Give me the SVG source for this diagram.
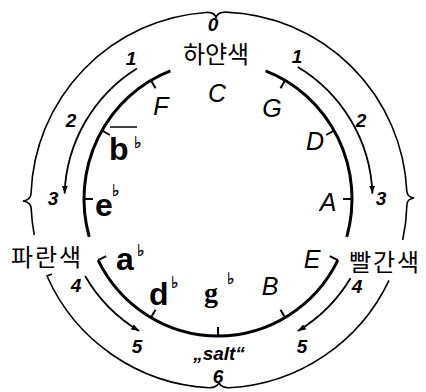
<svg xmlns="http://www.w3.org/2000/svg" width="426" height="392" viewBox="0 0 426 392">
<defs>
<marker id="ah" viewBox="0 0 8 6" refX="8" refY="3" markerWidth="8" markerHeight="6" orient="auto" markerUnits="userSpaceOnUse"><path d="M0,0 L8,3 L0,6 z" fill="#000"/></marker>
<style>
.outer{fill:none;stroke:#000;stroke-width:1.6}
.mid{fill:none;stroke:#000;stroke-width:1.8}
.inner{fill:none;stroke:#000;stroke-width:3}
.tick{stroke:#000;stroke-width:2}
.up{font-family:"Liberation Sans",Arial,sans-serif;font-style:italic;font-size:25px;text-anchor:middle;fill:#000}
.low{font-family:"Liberation Sans",Arial,sans-serif;font-weight:bold;font-size:32px;fill:#000}
.flat{font-family:"DejaVu Sans",sans-serif;font-weight:bold;font-size:16px;fill:#000;stroke:#000;stroke-width:0.4}
.num{font-family:"Liberation Sans",Arial,sans-serif;font-style:italic;font-weight:bold;font-size:19px;text-anchor:middle;fill:#000}
.kr{font-family:"Noto Sans CJK KR",sans-serif;font-size:24px;text-anchor:middle;fill:#000}
</style>
</defs>
<rect width="426" height="392" fill="#fff"/>
<g id="connectors">
<path class="outer" d="M216,18 Q215,12 206,12.45 A188,188 0 0 0 31.1,193 Q31,200 23,201 Q31,202 31.2,209 A188,188 0 0 0 34.3,235"/>
<path class="outer" d="M216,18 Q217,12 226,12.13 A188,188 0 0 1 406.8,191 Q407,197 414,198 Q407,199 406.9,205 A188,188 0 0 1 402.7,240"/>
<path class="outer" d="M52,274 L47,276 A188,188 0 0 0 209,387.75 Q216,388 219,383"/>
<path class="outer" d="M219,383 Q222,388 229,387.75 A188,188 0 0 0 389,280.3"/>
<path class="mid" marker-end="url(#ah)" d="M136.9,68.4 A154,154 0 0 0 64.6,193.6"/>
<path class="mid" marker-end="url(#ah)" d="M297.8,67 A154,154 0 0 1 372.4,193.6"/>
<path class="mid" marker-end="url(#ah)" d="M85.1,276 A154,154 0 0 0 139.2,331"/>
<path class="mid" marker-end="url(#ah)" d="M350.5,278.3 A154,154 0 0 1 297.8,331"/>
<path class="inner" d="M170.4,70.9 A134,137 0 0 0 89.2,236.8"/>
<path class="inner" d="M265.6,70.9 A134,137 0 0 1 346.8,236.8"/>
<path class="inner" d="M98.1,260.1 A134,137 0 0 0 337.9,260.1"/>
<g class="tick">
<line x1="285" y1="80.4" x2="280.5" y2="88.2"/>
<line x1="334" y1="130.5" x2="326.2" y2="135"/>
<line x1="352" y1="199" x2="343" y2="199"/>
<line x1="337.9" y1="260.1" x2="329.8" y2="256.1"/>
<line x1="285" y1="317.6" x2="280.5" y2="309.8"/>
<line x1="218" y1="336" x2="218" y2="327"/>
<line x1="151" y1="317.6" x2="155.5" y2="309.8"/>
<line x1="98.1" y1="260.1" x2="106.2" y2="256.1"/>
<line x1="84" y1="199" x2="93" y2="199"/>
<line x1="102" y1="130.5" x2="109.8" y2="135"/>
<line x1="151" y1="80.4" x2="155.5" y2="88.2"/>
</g>
</g>
<g id="white"><text class="kr" x="216" y="63">하얀색</text></g>
<g id="blue"><text class="kr" x="47" y="266" letter-spacing="2">파란색</text></g>
<g id="red"><text class="kr" x="385" y="271" letter-spacing="2">빨간색</text></g>
<g id="note-C"><text class="up" x="217" y="102">C</text></g>
<g id="note-G"><text class="up" x="272" y="117">G</text></g>
<g id="note-D"><text class="up" x="315" y="150">D</text></g>
<g id="note-A"><text class="up" x="328" y="211">A</text></g>
<g id="note-E"><text class="up" x="312" y="268">E</text></g>
<g id="note-B"><text class="up" x="270" y="295">B</text></g>
<g id="note-F"><text class="up" x="161" y="115">F</text></g>
<g id="note-bb"><text class="low" x="109" y="160">b</text><line x1="110" y1="127" x2="137" y2="127" stroke="#000" stroke-width="1.5"/><text class="flat" x="134" y="148">♭</text></g>
<g id="note-eb"><text class="low" x="95" y="216">e</text><text class="flat" x="112" y="196">♭</text></g>
<g id="note-ab"><text class="low" x="116" y="270">a</text><text class="flat" x="137" y="256">♭</text></g>
<g id="note-db"><text class="low" x="149" y="305">d</text><text class="flat" x="171" y="288">♭</text></g>
<g id="note-gb"><text x="204" y="302" font-family="Liberation Serif,serif" font-weight="bold" font-size="28" fill="#000">g</text><text class="flat" x="227" y="284">♭</text></g>
<g id="numbers">
<text class="num" x="213" y="31" font-size="14">0</text>
<text class="num" x="131" y="65">1</text>
<text class="num" x="297" y="63">1</text>
<text class="num" x="71" y="127">2</text>
<text class="num" x="361" y="127">2</text>
<text class="num" x="53" y="205">3</text>
<text class="num" x="381" y="205">3</text>
<text class="num" x="76" y="292">4</text>
<text class="num" x="357" y="293">4</text>
<text class="num" x="137" y="353">5</text>
<text class="num" x="302" y="353">5</text>
<text class="num" x="219" y="360" font-size="20">„salt“</text>
<text class="num" x="218" y="383" font-size="20">6</text>
</g>
</svg>
